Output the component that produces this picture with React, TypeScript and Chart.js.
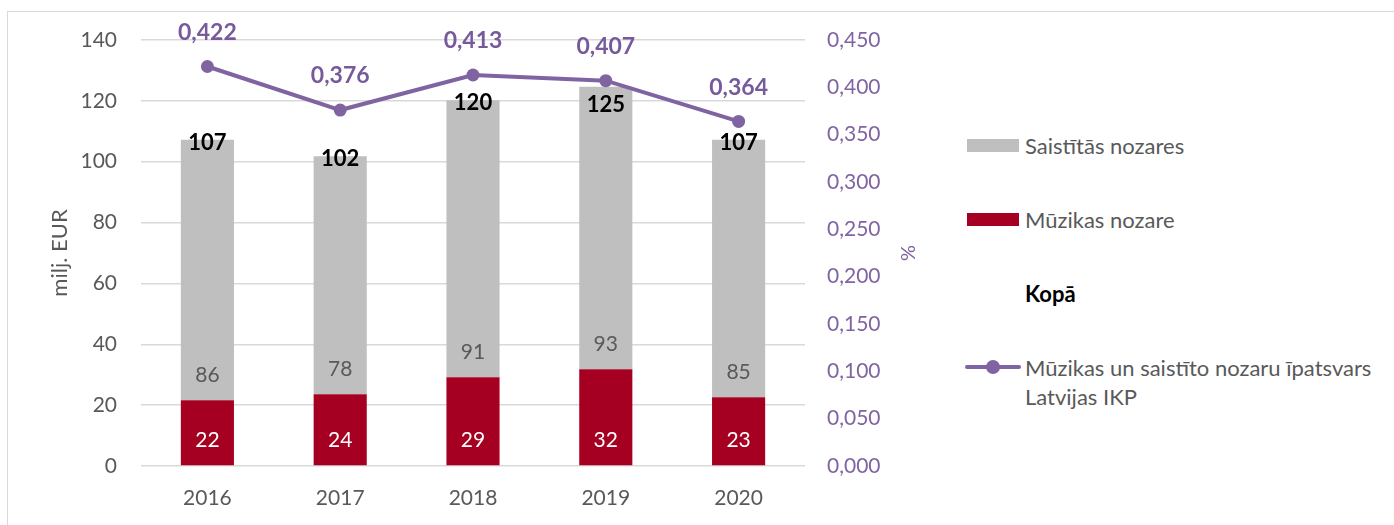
import React, { useEffect, useRef } from "react";
import { Chart, registerables } from "chart.js";

Chart.register(...registerables);

const years = ["2016", "2017", "2018", "2019", "2020"];
const muzikasNozare = [21.6, 23.6, 29.2, 31.8, 22.6];
const saistitasNozares = [85.6, 78.2, 91.0, 92.8, 84.6];
const ipatsvars = [0.422, 0.376, 0.413, 0.407, 0.364];
const leftTicks = { min: 0, max: 140, step: 20 };
const rightTicks = { min: 0, max: 0.45, step: 0.05 };

const FONT = "Lato, 'Noto Sans', sans-serif";
const GREY_TXT = "#595959";
const RED = "#A50021";
const GREY = "#BFBFBF";
const PURPLE = "#8064A2";
const PURPLE_TXT = "#765A9C";

const fmt3 = (v: number) => v.toFixed(3).replace(".", ",");

const labelPlugin = {
  id: "labels",
  afterDatasetsDraw(chart: any) {
    const ctx = chart.ctx;
    ctx.save();
    ctx.textAlign = "center";
    ctx.textBaseline = "middle";
    [0, 1].forEach((di) => {
      const meta = chart.getDatasetMeta(di);
      const data = chart.data.datasets[di].data as number[];
      meta.data.forEach((el: any, i: number) => {
        ctx.font = `21px ${FONT}`;
        ctx.fillStyle = di === 0 ? "#FFFFFF" : GREY_TXT;
        ctx.fillText(String(Math.round(data[i])), el.x, el.base - 25);
      });
    });
    const lineMeta = chart.getDatasetMeta(2);
    const topMeta = chart.getDatasetMeta(1);
    topMeta.data.forEach((el: any, i: number) => {
      const total = muzikasNozare[i] + saistitasNozares[i];
      let y = el.y + 3;
      const pt = lineMeta.data[i];
      if (pt && y - pt.y < 20 && y - pt.y > -20) y = pt.y + 24;
      ctx.font = `bold 22px ${FONT}`;
      ctx.fillStyle = "#000000";
      ctx.fillText(String(Math.round(total)), el.x, y);
    });
    lineMeta.data.forEach((el: any, i: number) => {
      ctx.font = `bold 23px ${FONT}`;
      ctx.fillStyle = PURPLE_TXT;
      ctx.fillText(fmt3(ipatsvars[i]), el.x, el.y - 34);
    });
    ctx.restore();
  },
};

export default function App() {
  const ref = useRef<HTMLCanvasElement>(null);
  useEffect(() => {
    if (!ref.current) return;
    const chart = new Chart(ref.current, {
      type: "bar",
      data: {
        labels: years,
        datasets: [
          {
            label: "Mūzikas nozare",
            data: muzikasNozare,
            backgroundColor: RED,
            yAxisID: "y",
            order: 2,
            barPercentage: 0.4,
            categoryPercentage: 1,
          },
          {
            label: "Saistītās nozares",
            data: saistitasNozares,
            backgroundColor: GREY,
            yAxisID: "y",
            order: 2,
            barPercentage: 0.4,
            categoryPercentage: 1,
          },
          {
            type: "line",
            label: "Mūzikas un saistīto nozaru īpatsvars Latvijas IKP",
            data: ipatsvars,
            borderColor: PURPLE,
            backgroundColor: PURPLE,
            borderWidth: 4,
            pointRadius: 6.5,
            pointBorderWidth: 0,
            pointBackgroundColor: PURPLE,
            tension: 0,
            yAxisID: "y1",
            order: 0,
            clip: false,
          } as any,
        ],
      },
      options: {
        responsive: false,
        animation: false,
        layout: { autoPadding: false, padding: { top: 28, left: 0, right: 0, bottom: 0 } },
        plugins: { legend: { display: false }, tooltip: { enabled: false } },
        scales: {
          x: {
            stacked: true,
            grid: { display: false },
            border: { display: false },
            ticks: { color: GREY_TXT, font: { family: FONT, size: 21 }, padding: 12 },
            afterFit: (s: any) => { s.height = 46; },
          },
          y: {
            stacked: true,
            position: "left",
            min: leftTicks.min,
            max: leftTicks.max,
            grid: { color: "#D9D9D9", lineWidth: 1.5, drawTicks: false },
            border: { display: false },
            ticks: { stepSize: leftTicks.step, color: GREY_TXT, font: { family: FONT, size: 21 }, padding: 24 },
            title: { display: true, text: "milj. EUR", color: GREY_TXT, font: { family: FONT, size: 22 }, padding: { top: 39, bottom: 0 } },
            afterFit: (s: any) => { s.width = 133; s.paddingTop = 0; },
          },
          y1: {
            position: "right",
            min: rightTicks.min,
            max: rightTicks.max,
            grid: { display: false, drawTicks: false },
            border: { display: false },
            ticks: { stepSize: rightTicks.step, color: PURPLE, font: { family: FONT, size: 21 }, padding: 22, callback: (v: any) => fmt3(Number(v)) },
            title: { display: true, text: "%", color: PURPLE, font: { family: FONT, size: 20 }, padding: { top: 29, bottom: 0 } },
            afterFit: (s: any) => { s.width = 143; s.paddingTop = 0; },
          },
        },
      },
      plugins: [labelPlugin],
    });
    return () => chart.destroy();
  }, []);

  const legendText: React.CSSProperties = {
    position: "absolute",
    left: 1017,
    fontFamily: FONT,
    fontSize: 22,
    color: GREY_TXT,
    lineHeight: "29px",
    whiteSpace: "nowrap",
  };

  return (
    <div
      style={{
        position: "absolute",
        left: 7,
        top: 11,
        width: 1387,
        height: 514,
        boxSizing: "border-box",
        borderLeft: "1px solid #D9D9D9",
        borderTop: "1px solid #D9D9D9",
        overflow: "hidden",
      }}
    >
      <canvas ref={ref} width={940} height={500} style={{ position: "absolute", left: 0, top: 0 }} />
      <div style={{ position: "absolute", left: 959, top: 127, width: 52, height: 13, background: GREY }} />
      <div style={{ ...legendText, top: 133 - 14.5 }}>Saistītās nozares</div>
      <div style={{ position: "absolute", left: 959, top: 201, width: 52, height: 13, background: RED }} />
      <div style={{ ...legendText, top: 207 - 14.5 }}>Mūzikas nozare</div>
      <div style={{ ...legendText, top: 281 - 14.5, fontWeight: "bold", color: "#000" }}>Kopā</div>
      <div style={{ position: "absolute", left: 957, top: 353, width: 56, height: 4, background: PURPLE, borderRadius: 2 }} />
      <div style={{ position: "absolute", left: 978, top: 348, width: 14, height: 14, background: PURPLE, borderRadius: 7 }} />
      <div style={{ ...legendText, top: 355 - 14.5 }}>
        Mūzikas un saistīto nozaru īpatsvars
        <br />
        Latvijas IKP
      </div>
    </div>
  );
}
